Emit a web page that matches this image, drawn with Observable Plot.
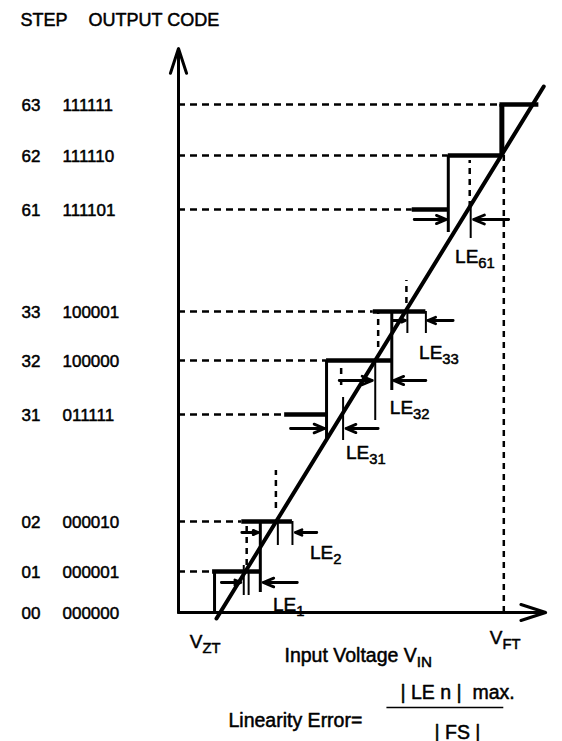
<!DOCTYPE html>
<html><head><meta charset="utf-8">
<script src="https://cdn.jsdelivr.net/npm/d3@7"></script>
<script src="https://cdn.jsdelivr.net/npm/@observablehq/plot@0.6"></script>
<style>body{margin:0;background:#fff} svg{display:block}</style>
</head><body><div id="chart"></div>
<script>
// Output-code levels (step number, binary code, vertical position in diagram units)
const stepNumbers = ["00","01","02","31","32","33","61","62","63"];
const outputCodes = ["000000","000001","000010","011111","100000","100001","111101","111110","111111"];
const levelY      = [0, 4.1, 9.1, 19.8, 25.2, 30.1, 40.3, 45.7, 50.8];
// Actual transfer-function step: where each code begins and ends on the input-voltage axis
const stepStartX  = [0, 3.5, 6.5, 10.9, 15.2, 20.0, 24.0, 27.7, 33.0];
const stepEndX    = [0, 8.4, 11.7, 15.2, 22.0, 25.4, 27.7, 33.2, 37.0];
// Risers between codes [x, yLow, yHigh]
const riserX  = [3.7, 8.4, 15.2, 21.9, 27.7];
const riserY1 = [0, 2.0, 17.2, 22.2, 38.0];
const riserY2 = [4.1, 9.1, 25.2, 30.1, 45.7];
const topRiser = {x: 33.2, y1: 45.7, y2: 50.8};
// Marker ticks (actual transition points)
const markX  = [6.7, 7.2, 10.2, 11.7, 16.9, 20.2, 23.5, 25.4, 30.0];
const markY1 = [1.7, 1.7, 6.7, 6.7, 17.2, 19.2, 27.9, 27.9, 37.4];
const markY2 = [4.7, 4.2, 8.9, 9.1, 21.5, 24.9, 29.9, 30.1, 40.5];
// Ideal transition points (dashed)
const idealX  = [7.0, 10.0, 16.7, 20.5, 23.4, 29.9];
const idealY1 = [4.7, 10.4, 22.7, 26.5, 30.9, 40.5];
const idealY2 = [8.7, 14.2, 24.7, 29.9, 33.2, 45.2];
const vZT = 2.7, vFT = 33.4;
// Ideal straight line
const idealLineX = [3.9, 37.5];
const idealLineY = [-0.6, 52.6];
// Linearity error arrows [from x, to x, at y]
const arrowFrom = [4.4, 12.2, 6.5, 14.2, 11.5, 20.5, 16.5, 25.4, 22.0, 28.2, 24.2, 33.9];
const arrowTo   = [6.4, 8.7, 8.2, 12.0, 15.0, 17.2, 19.9, 22.1, 23.3, 25.6, 27.5, 30.3];
const arrowY    = [3.0, 3.0, 8.0, 8.0, 18.4, 18.4, 23.2, 23.2, 29.2, 29.2, 39.3, 39.3];
// LE labels
const leNames = ["LE_1","LE_2","LE_31","LE_32","LE_33","LE_61"];
const leX = [9.7, 13.5, 17.2, 21.7, 24.7, 28.4];
const leY = [0.2, 5.4, 15.4, 19.9, 25.4, 35.0];
const axisTopY = 56.4, axisRightX = 37.7;
const fractionBarY = -9.5, fractionBarX1 = 21.4, fractionBarX2 = 33.4;

const levels = stepNumbers.map((s, i) => ({step: s, code: outputCodes[i], y: levelY[i], start: stepStartX[i], end: stepEndX[i]}));
const stepped = levels.slice(1);
const risers = riserX.map((x, i) => ({x, y1: riserY1[i], y2: riserY2[i]}));
const marks = markX.map((x, i) => ({x, y1: markY1[i], y2: markY2[i]}));
const ideals = idealX.map((x, i) => ({x, y1: idealY1[i], y2: idealY2[i]}));
ideals.push({x: vFT, y1: 0, y2: levelY[7]});
const line = idealLineX.map((x, i) => ({x, y: idealLineY[i]}));
const arrows = arrowFrom.map((x1, i) => ({x1, x2: arrowTo[i], y: arrowY[i]}));
const leLabels = leNames.map((t, i) => ({t, x: leX[i], y: leY[i]}));

const font = "Liberation Sans, Arial, Helvetica, sans-serif";
const txt = {textAnchor: "start", lineAnchor: "bottom", fill: "black", stroke: "black", strokeWidth: 0.5, fontFamily: font};

const svg = Plot.plot({
  width: 562, height: 741,
  marginLeft: 178, marginRight: 10, marginTop: 0, marginBottom: 129,
  x: {domain: [0, 38.4], axis: null},
  y: {domain: [0, 61.2], axis: null},
  style: {fontFamily: font, background: "white"},
  marks: [
    Plot.ruleY(stepped, {y: "y", x1: 0, x2: "start", strokeWidth: 2.5, strokeDasharray: "7,5"}),
    Plot.ruleX(ideals, {x: "x", y1: "y1", y2: "y2", strokeWidth: 2.5, strokeDasharray: "6,5"}),
    Plot.ruleX(marks, {x: "x", y1: "y1", y2: "y2", strokeWidth: 2}),
    Plot.ruleX(risers, {x: "x", y1: "y1", y2: "y2", strokeWidth: 3}),
    Plot.ruleX([topRiser], {x: "x", y1: "y1", y2: "y2", strokeWidth: 5}),
    Plot.ruleY(stepped, {y: "y", x1: "start", x2: "end", strokeWidth: 4.5}),
    Plot.line(line, {x: "x", y: "y", strokeWidth: 4}),
    Plot.arrow(arrows, {x1: "x1", x2: "x2", y1: "y", y2: "y", strokeWidth: 2.8, headLength: 9, headAngle: 45}),
    Plot.arrow([{x1: 0, y1: 0, x2: 0, y2: axisTopY}, {x1: 0, y1: 0, x2: axisRightX, y2: 0}],
      {x1: "x1", y1: "y1", x2: "x2", y2: "y2", strokeWidth: 3, headLength: 13, headAngle: 36}),
    // texts
    Plot.text(["STEP"], {...txt, frameAnchor: "top-left", dx: -158, dy: 25, fontSize: 18}),
    Plot.text(["OUTPUT CODE"], {...txt, frameAnchor: "top-left", dx: -90, dy: 25, fontSize: 18, letterSpacing: "1.3px"}),
    Plot.text(levels, {...txt, y: "y", text: "step", frameAnchor: "left", dx: -157, dy: 6, fontSize: 17}),
    Plot.text(levels, {...txt, y: "y", text: "code", frameAnchor: "left", dx: -116, dy: 6, fontSize: 17}),
    Plot.text(leLabels, {...txt, x: "x", y: "y", text: "t", fontSize: 19}),
    Plot.text(["V_ZT"], {...txt, x: vZT, y: 0, dx: -15, dy: 35, fontSize: 19}),
    Plot.text(["V_FT"], {...txt, x: vFT, y: 0, dx: -14, dy: 31, fontSize: 19}),
    Plot.text(["Input Voltage V_IN"], {...txt, frameAnchor: "bottom-left", dx: 106, dy: 49, fontSize: 19.5}),
    Plot.text(["Linearity Error="], {...txt, frameAnchor: "bottom-left", dx: 50, dy: 114, fontSize: 19.5}),
    Plot.text(["| LE n |  max."], {...txt, frameAnchor: "bottom-left", dx: 222, dy: 86, fontSize: 19.5}),
    Plot.ruleY([fractionBarY], {x1: fractionBarX1, x2: fractionBarX2, strokeWidth: 1.6}),
    Plot.text(["| FS |"], {...txt, frameAnchor: "bottom-left", dx: 256, dy: 126, fontSize: 19.5})
  ]
});

// turn "_xx" into subscripts
svg.querySelectorAll("text").forEach(el => {
  const targets = el.querySelectorAll("tspan").length ? el.querySelectorAll("tspan") : [el];
  targets.forEach(t => {
    const s = t.textContent;
    const k = s.indexOf("_");
    if (k >= 0) {
      t.textContent = s.slice(0, k);
      const sub = document.createElementNS("http://www.w3.org/2000/svg", "tspan");
      sub.setAttribute("font-size", "0.78em");
      sub.setAttribute("dy", "5");
      sub.textContent = s.slice(k + 1);
      t.appendChild(sub);
    }
  });
});
document.getElementById("chart").appendChild(svg);
</script></body></html>
